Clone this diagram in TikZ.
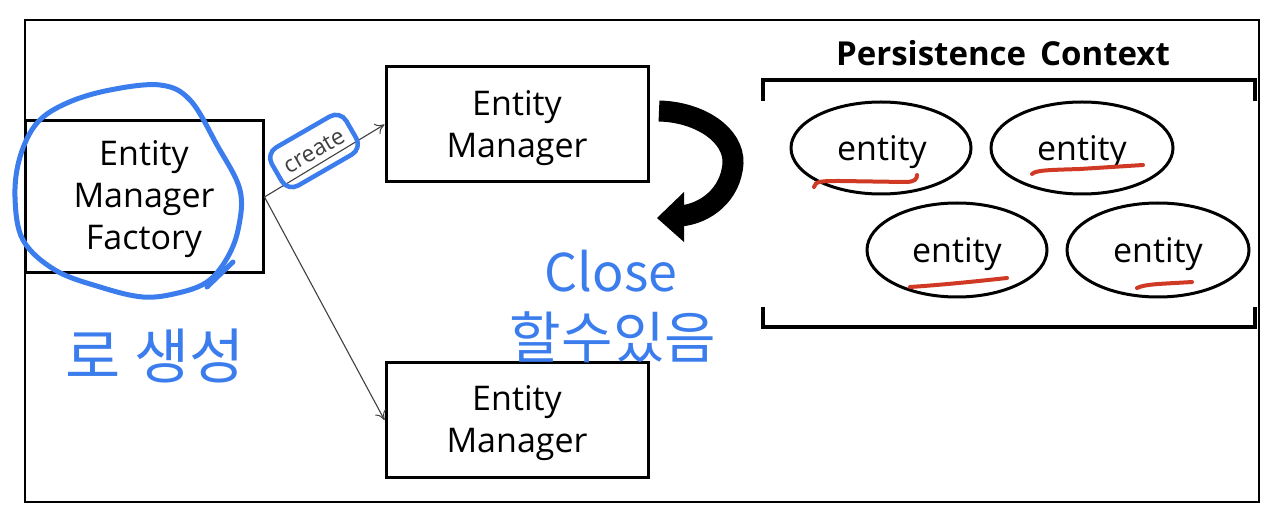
\documentclass[tikz,border=0pt]{standalone}
\usepackage{fontspec}
\setmainfont{Open Sans}
\newfontfamily\kr{Noto Sans CJK KR}
\usetikzlibrary{shapes.geometric,arrows.meta}
\definecolor{pen}{RGB}{59,125,237}
\definecolor{redpen}{RGB}{208,58,36}
\definecolor{linegray}{RGB}{64,64,64}
\tikzset{
  box/.style={draw=black, line width=3pt, inner sep=0pt},
  boxtext/.style={inner sep=0pt, align=center, font=\fontsize{34}{42}\selectfont},
  ent/.style={draw=black, line width=3pt, ellipse, inner sep=0pt},
  enttext/.style={inner sep=0pt, font=\fontsize{34}{40}\selectfont},
  conn/.style={draw=linegray, line width=1.1pt, -{To[length=9pt,width=12pt,line width=1pt]}},
  bluepen/.style={draw=pen, line width=5pt, line cap=round, line join=round},
  redline/.style={draw=redpen, line width=4pt, line cap=round},
  hand/.style={text=pen, font=\kr},
}
\begin{document}
\begin{tikzpicture}[x=1pt,y=-1pt]
\useasboundingbox (0,0) rectangle (1274,518);
% outer frame
\draw[line width=2pt] (25,20) rectangle (1259,502);
% boxes
\node[box, minimum width=238pt, minimum height=152pt] (emf) at (144,197) {};
\node[boxtext] (emft) at (144,199) {Entity\\Manager\\Factory};
\node[box, minimum width=262pt, minimum height=115pt] (em1) at (517,124.5) {};
\node[boxtext] (em1t) at (517,128) {Entity\\Manager};
\node[box, minimum width=262pt, minimum height=114pt] (em2) at (517,420) {};
\node[boxtext] (em2t) at (517,423) {Entity\\Manager};
% connectors
\draw[conn] (emf.east) -- (em1.west);
\draw[conn] (emf.east) -- (em2.west);
\node[draw=pen, line width=4.5pt, rounded corners=12pt, rotate=30, minimum width=86pt, minimum height=44pt, inner sep=0pt, text=linegray, font=\fontsize{23}{23}\selectfont] (create) at (314,151) {create};
% blue loop around factory
\draw[bluepen] plot[smooth cycle, tension=0.6] coordinates {(160,85) (190,100) (217,145) (240,190) (238,230) (226,260) (207,282) (178,293) (143,297) (100,287) (55,270) (23,240) (15,197) (20,157) (37,123) (67,103) (110,90)};
\draw[bluepen] (207,287) -- (233,262);
% handwritten notes
\node[hand, font=\kr\fontsize{60}{60}\selectfont] (note1) at (155,356) {로 생성};
\node[hand, font=\kr\fontsize{52}{52}\selectfont] (note2) at (611,271) {Close};
\node[hand, font=\kr\fontsize{56}{56}\selectfont] (note3) at (613,337) {할수있음};
% curved black arrow
\draw[line width=21pt] (659,111) .. controls (700,112) and (734,135) .. (733,163) .. controls (731,195) and (705,214) .. (680,216);
\fill (684,192) -- (657,218) -- (684,242) -- cycle;
% persistence context
\node[font=\bfseries\fontsize{33}{33}\selectfont, inner sep=0pt] (title) at (1003,53) {Persistence\hspace{14pt}Context};
\draw[line width=4pt] (763,101) -- (763,80) -- (1255,80) -- (1255,101);
\draw[line width=4pt] (763,307) -- (763,327) -- (1255,327) -- (1255,307);
\node[ent, minimum width=180pt, minimum height=92pt] (e1) at (881,148) {};
\node[enttext] (e1t) at (882,152) {entity};
\node[ent, minimum width=182pt, minimum height=92pt] (e2) at (1082,148) {};
\node[enttext] (e2t) at (1082,152) {entity};
\node[ent, minimum width=180pt, minimum height=94pt] (e3) at (957,250) {};
\node[enttext] (e3t) at (957,254) {entity};
\node[ent, minimum width=182pt, minimum height=94pt] (e4) at (1158,250) {};
\node[enttext] (e4t) at (1158,254) {entity};
% red underlines
\draw[redline] (814,187) .. controls (815,181) and (822,181) .. (840,181) -- (905,182) .. controls (915,182) and (917,179) .. (917,175);
\draw[redline] (1032,174) .. controls (1036,170) and (1050,170) .. (1080,169) -- (1143,165);
\draw[redline] (910,287) .. controls (940,285) and (970,282) .. (1007,278);
\draw[redline] (1137,288) .. controls (1145,284) and (1160,284) .. (1192,282);
\end{tikzpicture}
\end{document}
